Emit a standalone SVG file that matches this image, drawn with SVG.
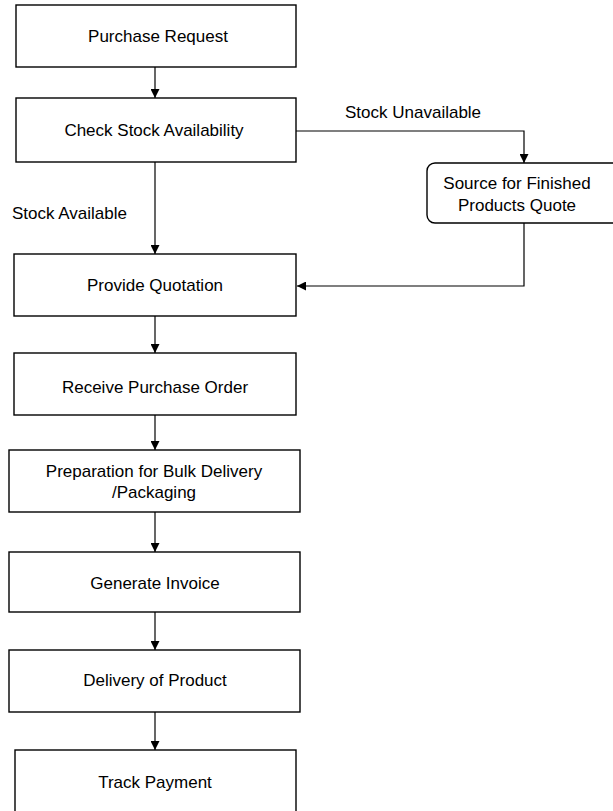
<svg xmlns="http://www.w3.org/2000/svg" width="613" height="811" viewBox="0 0 613 811">
<style>
.box{fill:#fff;stroke:#000;stroke-width:1.4}
.t{font-family:"Liberation Sans",Arial,sans-serif;font-size:17px;fill:#000;text-anchor:middle}
.l{font-family:"Liberation Sans",Arial,sans-serif;font-size:17px;fill:#000}
.c{fill:none;stroke:#000;stroke-width:1.2}
</style>
<defs>
<marker id="ah" viewBox="0 0 10 10" refX="10" refY="5" markerWidth="9" markerHeight="9" markerUnits="userSpaceOnUse" orient="auto">
<path d="M0,0 L10,5 L0,10 z" fill="#000"/>
</marker>
</defs>
<rect width="613" height="811" fill="#fff"/>
<g id="connectors">
<line class="c" x1="155" y1="67" x2="155" y2="98" marker-end="url(#ah)"/>
<line class="c" x1="155" y1="162" x2="155" y2="254" marker-end="url(#ah)"/>
<polyline class="c" points="296,131 524,131 524,163" marker-end="url(#ah)"/>
<polyline class="c" points="524,223 524,286 297,286" marker-end="url(#ah)"/>
<line class="c" x1="155" y1="316" x2="155" y2="353" marker-end="url(#ah)"/>
<line class="c" x1="155" y1="415" x2="155" y2="450" marker-end="url(#ah)"/>
<line class="c" x1="155" y1="512" x2="155" y2="552" marker-end="url(#ah)"/>
<line class="c" x1="155" y1="612" x2="155" y2="650" marker-end="url(#ah)"/>
<line class="c" x1="155" y1="712" x2="155" y2="750" marker-end="url(#ah)"/>
<text class="l" x="345" y="118">Stock Unavailable</text>
<text class="l" x="12" y="219">Stock Available</text>
</g>
<g id="n1"><rect class="box" x="16" y="5" width="280" height="62"/><text class="t" x="158" y="42">Purchase Request</text></g>
<g id="n2"><rect class="box" x="16" y="98" width="280" height="64"/><text class="t" x="154" y="136">Check Stock Availability</text></g>
<g id="n3"><rect class="box" x="427" y="163" width="200" height="60" rx="8"/><text class="t" x="517" y="189">Source for Finished</text><text class="t" x="517" y="211">Products Quote</text></g>
<g id="n4"><rect class="box" x="14" y="254" width="282" height="62"/><text class="t" x="155" y="291">Provide Quotation</text></g>
<g id="n5"><rect class="box" x="14" y="353" width="282" height="62"/><text class="t" x="155" y="393">Receive Purchase Order</text></g>
<g id="n6"><rect class="box" x="9" y="450" width="291" height="62"/><text class="t" x="154" y="477">Preparation for Bulk Delivery</text><text class="t" x="154" y="498">/Packaging</text></g>
<g id="n7"><rect class="box" x="9" y="552" width="291" height="60"/><text class="t" x="155" y="589">Generate Invoice</text></g>
<g id="n8"><rect class="box" x="9" y="650" width="291" height="62"/><text class="t" x="155" y="686">Delivery of Product</text></g>
<g id="n9"><rect class="box" x="15" y="750" width="281" height="80"/><text class="t" x="155" y="788">Track Payment</text></g>
</svg>
